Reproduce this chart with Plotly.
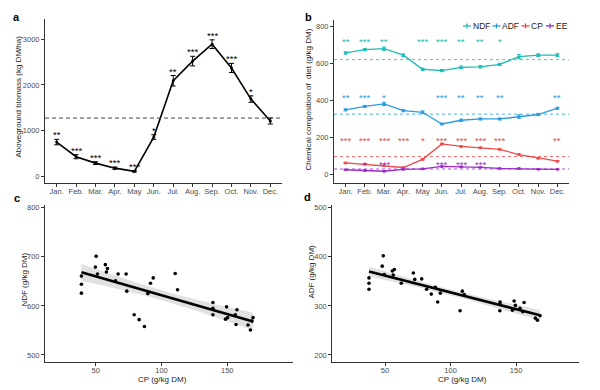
import numpy as np
import plotly.graph_objects as go

# ---------------- data ----------------
months = ["Jan.", "Feb.", "Mar.", "Apr.", "May", "Jun.", "Jul.", "Aug.", "Sep.", "Oct.", "Nov.", "Dec."]

biomass = [750, 430, 290, 180, 110, 860, 2090, 2520, 2890, 2370, 1690, 1210]
biomass_err = [60, 45, 30, 25, 15, 50, 115, 105, 95, 100, 70, 65]
biomass_stars = ["**", "***", "***", "***", "***", "*", "**", "***", "***", "***", "*", ""]
biomass_mean = 1275

ndf = [657, 675, 680, 645, 569, 562, 579, 582, 595, 637, 645, 645]
ndf_err = [6, 6, 9, 7, 6, 6, 7, 6, 6, 11, 7, 8]
adf = [350, 369, 382, 346, 337, 274, 294, 301, 301, 314, 325, 359]
adf_err = [5, 5, 9, 6, 7, 4, 6, 5, 5, 9, 6, 5]
cp = [64, 57, 50, 39, 83, 166, 153, 146, 137, 109, 89, 73]
cp_err = [3, 3, 3, 2, 3, 4, 3, 3, 3, 3, 3, 3]
ee = [27, 23, 19, 29, 32, 45, 43, 40, 34, 34, 30, 29]
ee_err = [2, 2, 2, 2, 2, 2, 2, 2, 2, 2, 2, 2]

ndf_stars = ["**", "***", "**", "", "***", "***", "**", "**", "*", "", "", ""]
adf_stars = ["**", "***", "*", "", "", "***", "**", "**", "**", "", "", "**"]
cp_stars = ["***", "***", "***", "***", "*", "***", "***", "***", "***", "", "", "**"]
ee_stars = ["", "*", "***", "", "", "***", "***", "***", "", "", "", ""]

ndf_mean, adf_mean, cp_mean, ee_mean = 621, 327, 98, 31
star_rows = {"NDF": 729, "ADF": 430, "CP": 198, "EE": 68}

cp_c = [39.1, 39.1, 39.1, 50.3, 49.7, 51.3, 57.3, 58.9, 58.1, 65, 67, 73.1, 73.6, 79.2, 83, 87,
        89.6, 91.6, 93.7, 110.4, 112.2, 139.1, 139.1, 139.1, 149.5, 157.4, 150.3, 148.7, 156.1,
        156.7, 165.8, 167.6, 169.6, 168.8]
ndf_c = [661, 644, 626, 701, 679, 665, 684, 676, 669, 651, 665, 665, 630, 582, 572, 558,
         625, 646, 657, 666, 633, 607, 595, 582, 598, 592, 576, 573, 582,
         562, 561, 551, 576, 569]

cp_d = [37.8, 37.8, 37.8, 48.7, 47.9, 49.5, 55.6, 57.1, 56.3, 62.4, 71.6, 72.7, 78, 81.8, 85.3,
        90.2, 88.4, 92.2, 107.3, 109, 110.5, 137.8, 137.6, 137.8, 148.5, 149.5, 156.1, 147.2,
        155.1, 153, 164.7, 166.3, 168.3]
adf_d = [357, 346, 334, 402, 381, 364, 371, 374, 363, 346, 367, 354, 355, 334, 324,
         308, 338, 326, 290, 330, 323, 308, 290, 303, 310, 301, 307, 291,
         288, 295, 275, 271, 280]

# ---------------- styling ----------------
FONT = "Liberation Sans, Arial, Helvetica, sans-serif"
AX = "#333333"
TICKC = "#4d4d4d"
C_NDF, C_ADF, C_CP, C_EE = "#1BBDB4", "#2A9CDF", "#EE4A4A", "#9A2BC6"

# the page body has an 8px margin, so the figure starts at (8, 8) in the window
OFF = 8
W, H = 592, 382


def px_x(p):
    return (p - OFF) / W


def px_y(p):
    return 1 - (p - OFF) / H


fig = go.Figure()

xi = list(range(12))

# ---------------- panel a ----------------
fig.add_shape(type="line", xref="x domain", yref="y", x0=0, x1=1,
              y0=biomass_mean, y1=biomass_mean,
              line=dict(color="#333333", width=0.9, dash="4px,3px"))
fig.add_trace(go.Scatter(
    x=xi, y=biomass, mode="lines+markers", xaxis="x", yaxis="y",
    line=dict(color="black", width=1.6), marker=dict(color="black", size=3),
    error_y=dict(type="data", array=biomass_err, color="black", thickness=1, width=2.5),
    showlegend=False))

annotations = []
for i, s in enumerate(biomass_stars):
    if s:
        annotations.append(dict(x=i, y=biomass[i] + biomass_err[i], xref="x", yref="y",
                                text=s, showarrow=False, yanchor="bottom", yshift=-3,
                                font=dict(family=FONT, size=9.5, color="black")))

# ---------------- panel b ----------------
series = [("NDF", ndf, ndf_err, ndf_mean, ndf_stars, C_NDF),
          ("ADF", adf, adf_err, adf_mean, adf_stars, C_ADF),
          ("CP", cp, cp_err, cp_mean, cp_stars, C_CP),
          ("EE", ee, ee_err, ee_mean, ee_stars, C_EE)]

for name, vals, errs, mean, stars, col in series:
    fig.add_shape(type="line", xref="x2 domain", yref="y2", x0=0, x1=1, y0=mean, y1=mean,
                  line=dict(color=col, width=0.9, dash="3px,3px"), opacity=0.9)
for name, vals, errs, mean, stars, col in series:
    fig.add_trace(go.Scatter(
        x=xi, y=vals, mode="lines+markers", xaxis="x2", yaxis="y2", name=name,
        line=dict(color=col, width=1.3), marker=dict(color=col, size=3),
        error_y=dict(type="data", array=errs, color=col, thickness=1, width=2),
        showlegend=False))
    for i, s in enumerate(stars):
        if s:
            annotations.append(dict(x=i, y=star_rows[name], xref="x2", yref="y2", text=s,
                                    showarrow=False, yanchor="middle", yshift=-2,
                                    font=dict(family=FONT, size=9.5, color=col)))

# manual legend for panel b
leg = [("NDF", C_NDF, 467), ("ADF", C_ADF, 496.5), ("CP", C_CP, 525.5), ("EE", C_EE, 550)]
for name, col, cx in leg:
    fig.add_shape(type="line", xref="paper", yref="paper", x0=px_x(cx - 4), x1=px_x(cx + 4),
                  y0=px_y(24), y1=px_y(24), line=dict(color=col, width=1.3))
    fig.add_shape(type="line", xref="paper", yref="paper", x0=px_x(cx), x1=px_x(cx),
                  y0=px_y(21.5), y1=px_y(26.5), line=dict(color=col, width=1.3))
    annotations.append(dict(x=px_x(cx + 3.5), y=px_y(24), xref="paper", yref="paper", text=name,
                            showarrow=False, xanchor="left", yanchor="middle",
                            font=dict(family=FONT, size=8.5, color="#222222")))


# ---------------- panels c, d (regression) ----------------
def add_reg(xs, ys, xa, ya):
    xs = np.asarray(xs, float)
    ys = np.asarray(ys, float)
    n = len(xs)
    b, a = np.polyfit(xs, ys, 1)
    xg = np.linspace(xs.min(), xs.max(), 60)
    yg = a + b * xg
    resid = ys - (a + b * xs)
    s = np.sqrt(np.sum(resid ** 2) / (n - 2))
    sxx = np.sum((xs - xs.mean()) ** 2)
    se = s * np.sqrt(1 / n + (xg - xs.mean()) ** 2 / sxx)
    t = 2.04
    lo, hi = yg - t * se, yg + t * se
    fig.add_trace(go.Scatter(x=np.concatenate([xg, xg[::-1]]), y=np.concatenate([hi, lo[::-1]]),
                             fill="toself", fillcolor="rgba(200,200,200,0.55)", line=dict(width=0),
                             mode="lines", xaxis=xa, yaxis=ya, showlegend=False, hoverinfo="skip"))
    fig.add_trace(go.Scatter(x=xs, y=ys, mode="markers", xaxis=xa, yaxis=ya,
                             marker=dict(color="black", size=3.6), showlegend=False))
    fig.add_trace(go.Scatter(x=xg, y=yg, mode="lines", xaxis=xa, yaxis=ya,
                             line=dict(color="black", width=2.6), showlegend=False))


add_reg(cp_c, ndf_c, "x3", "y3")
add_reg(cp_d, adf_d, "x4", "y4")

# ---------------- axes ----------------
base = dict(showline=True, linecolor=AX, linewidth=1, ticks="outside", ticklen=3, tickwidth=1,
            tickcolor=AX, showgrid=False, zeroline=False,
            tickfont=dict(family=FONT, size=7.5, color=TICKC))
xbase = dict(base, ticklabelstandoff=-2)

cat_ticks = dict(tickmode="array", tickvals=xi, ticktext=months)

fig.update_layout(
    xaxis=dict(xbase, domain=[px_x(45), px_x(282)], range=[-0.6, 11.6], anchor="y", **cat_ticks),
    yaxis=dict(base, domain=[px_y(181.7), px_y(16.6)], range=[-140, 3450], anchor="x",
               tickvals=[0, 1000, 2000, 3000]),
    xaxis2=dict(xbase, domain=[px_x(334), px_x(569)], range=[-0.6, 11.6], anchor="y2", **cat_ticks),
    yaxis2=dict(base, domain=[px_y(182), px_y(18)], range=[-45, 835], anchor="x2",
                tickvals=[0, 200, 400, 600, 800]),
    xaxis3=dict(xbase, domain=[px_x(45), px_x(293)], range=[11.4, 200], anchor="y3",
                tickvals=[50, 100, 150]),
    yaxis3=dict(base, domain=[px_y(361.7), px_y(204.3)], range=[486, 805], anchor="x3",
                tickvals=[500, 600, 700, 800]),
    xaxis4=dict(xbase, domain=[px_x(332.3), px_x(579)], range=[9.8, 198], anchor="y4",
                tickvals=[50, 100, 150]),
    yaxis4=dict(base, domain=[px_y(361.7), px_y(204.3)], range=[186, 505], anchor="x4",
                tickvals=[200, 300, 400, 500]),
)

# axis titles and panel letters
tfont = dict(family=FONT, size=8, color="#222222")
titles = [
    dict(x=px_x(19), y=px_y(95), text="Aboveground biomass (kg DM/ha)", textangle=-90),
    dict(x=px_x(309), y=px_y(98), text="Chemical composition of  diet (g/kg DM)", textangle=-90),
    dict(x=px_x(25), y=px_y(279), text="NDF (g/kg DM)", textangle=-90),
    dict(x=px_x(312), y=px_y(271), text="ADF (g/kg DM)", textangle=-90),
    dict(x=px_x(162), y=px_y(379), text="CP (g/kg DM)"),
    dict(x=px_x(462), y=px_y(379), text="CP (g/kg DM)"),
]
for a in titles:
    a.update(xref="paper", yref="paper", showarrow=False, font=tfont,
             xanchor="center", yanchor="middle")
annotations += titles

for letter, lx, ly in [("a", 16, 15), ("b", 308, 15), ("c", 17, 197), ("d", 307, 196)]:
    annotations.append(dict(x=px_x(lx), y=px_y(ly), xref="paper", yref="paper", text=f"<b>{letter}</b>",
                            showarrow=False, xanchor="center", yanchor="middle",
                            font=dict(family=FONT, size=11, color="black")))

fig.update_layout(
    annotations=annotations,
    width=W, height=H, margin=dict(l=0, r=0, t=0, b=0),
    paper_bgcolor="white", plot_bgcolor="white",
    showlegend=False,
)

fig.write_html("out.html")
